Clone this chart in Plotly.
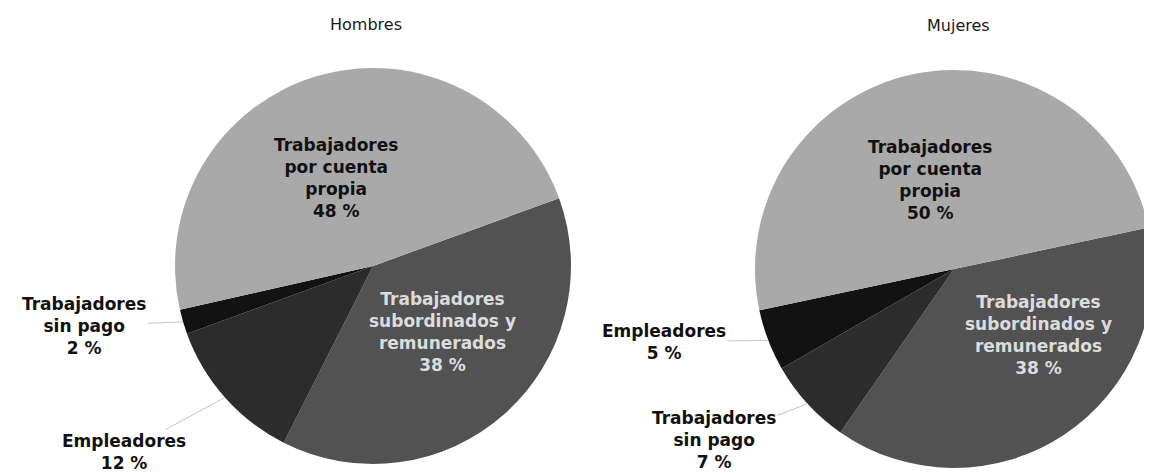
import numpy as np
import plotly.graph_objects as go

W, H = 1152, 473

# ---------------- data ----------------
titulos = ["Hombres", "Mujeres"]

categorias_hombres = ["Trabajadores subordinados y remunerados", "Empleadores",
                      "Trabajadores sin pago", "Trabajadores por cuenta propia"]
valores_hombres = [38, 12, 2, 48]

categorias_mujeres = ["Trabajadores subordinados y remunerados", "Trabajadores sin pago",
                      "Empleadores", "Trabajadores por cuenta propia"]
valores_mujeres = [38, 7, 5, 50]

etiquetas = {
    "Trabajadores subordinados y remunerados": "Trabajadores<br>subordinados y<br>remunerados",
    "Empleadores": "Empleadores",
    "Trabajadores sin pago": "Trabajadores<br>sin pago",
    "Trabajadores por cuenta propia": "Trabajadores<br>por cuenta<br>propia",
}

# ---------------- styles / layout ----------------
colores_hombres = ["#525252", "#2c2c2c", "#121212", "#a9a9a9"]
colores_mujeres = ["#525252", "#2c2c2c", "#121212", "#a9a9a9"]

# pie geometry in pixels: center x, center y, radius ; rotation of first slice
geom = [
    dict(cx=365, cy=258, r=198, rot=70),
    dict(cx=946, cy=261, r=199, rot=78),
]

# label placement (pixel centre of text block), text colour, outside (leader line)
pos_hombres = [((434, 324), "#dcdcdc", False),
               ((116, 444), "#111111", True),
               ((76, 318), "#111111", True),
               ((328, 170), "#111111", False)]
pos_mujeres = [((1030, 327), "#dcdcdc", False),
               ((706, 432), "#111111", True),
               ((656, 334), "#111111", True),
               ((922, 172), "#111111", False)]

FONT = "DejaVu Sans, Verdana, sans-serif"
FS = 17

fig = go.Figure()
annotations = []

series = [(categorias_hombres, valores_hombres, colores_hombres, pos_hombres),
          (categorias_mujeres, valores_mujeres, colores_mujeres, pos_mujeres)]

for k, (cats, vals, cols, posiciones) in enumerate(series):
    g = geom[k]
    dom_x = [(g["cx"] - g["r"]) / W, (g["cx"] + g["r"]) / W]
    dom_y = [1 - (g["cy"] + g["r"]) / H, 1 - (g["cy"] - g["r"]) / H]
    fig.add_trace(go.Pie(
        labels=cats, values=vals, sort=False, direction="clockwise",
        rotation=g["rot"], textinfo="none", hoverinfo="label+percent",
        marker=dict(colors=cols, line=dict(width=0)),
        domain=dict(x=dom_x, y=dom_y), showlegend=False,
    ))
    # slice mid-angles from the data
    v = np.array(vals, dtype=float)
    frac = v / v.sum()
    start = g["rot"] + 360 * np.concatenate([[0], np.cumsum(frac)[:-1]])
    mid = start + 180 * frac
    for c, val, m, ((tx, ty), col, outside) in zip(cats, vals, mid, posiciones):
        texto = f"<b>{etiquetas[c]}<br>{val} %</b>"
        if outside:
            a = np.deg2rad(m)
            px = g["cx"] + g["r"] * np.sin(a)
            py = g["cy"] - g["r"] * np.cos(a)
            annotations.append(dict(
                x=px / W, y=1 - py / H, xref="paper", yref="paper",
                ax=tx - px, ay=ty - py, text=texto, showarrow=True,
                arrowhead=0, arrowwidth=1, arrowcolor="#c4c4c4", standoff=0,
                font=dict(family=FONT, size=FS, color=col), align="center"))
        else:
            annotations.append(dict(
                x=tx / W, y=1 - ty / H, xref="paper", yref="paper",
                text=texto, showarrow=False, xanchor="center", yanchor="middle",
                font=dict(family=FONT, size=FS, color=col), align="center"))

titulo_pos = [(358, 16), (950, 18)]
for t, (tx, ty) in zip(titulos, titulo_pos):
    annotations.append(dict(x=tx / W, y=1 - ty / H, xref="paper", yref="paper",
                            text=t, showarrow=False, xanchor="center", yanchor="middle",
                            font=dict(family=FONT, size=16, color="#1a1a1a")))

fig.update_layout(
    width=W, height=H, margin=dict(l=0, r=0, t=0, b=0),
    paper_bgcolor="white", plot_bgcolor="white",
    annotations=annotations,
)

fig.write_html("out.html")
